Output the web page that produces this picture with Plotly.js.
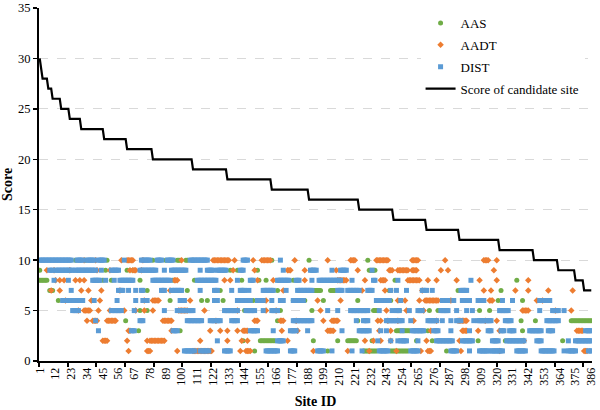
<!DOCTYPE html>
<html>
<head>
<meta charset="utf-8">
<script src="https://cdn.plot.ly/plotly-3.0.1.min.js"></script>
<style>html,body{margin:0;padding:0;background:#fff;}#chart{width:600px;height:410px;}</style>
</head>
<body>
<div id="chart"></div>
<script>
// x tick labels (Site ID)
const tickSites = [1,12,23,34,45,56,67,78,89,100,111,122,133,144,155,166,177,188,199,210,221,232,243,254,265,276,287,298,309,320,331,342,353,364,375,386];

// Score of candidate site: level and number of consecutive sites at that level
const scoreLevels = [30,29,28,27,26,25,24,23,22,21,20,19,18,17,16,15,14,13,12,11,10,9,8,7];
const scoreCounts = [1,1,4,3,6,6,8,16,16,18,28,24,31,26,35,24,23,23,28,24,17,12,6,6];

// Each entry: [score value, first site, last site]
const AAS_runs = [
 [10,26,26],[10,33,33],[10,48,48],[10,80,80],[10,89,89],[10,97,99],[10,103,104],[10,108,108],[10,163,163],[10,189,189],[10,230,230],
 [9,1,1],[9,47,47],[9,62,62],[9,66,66],[9,134,134],[9,139,139],[9,153,153],[9,191,191],[9,231,235],
 [8,1,6],[8,45,45],[8,51,51],[8,71,71],[8,94,94],[8,109,109],[8,142,142],[8,154,154],[8,159,159],[8,178,178],[8,249,249],[8,334,334],
 [7,8,10],[7,76,76],[7,104,104],[7,127,127],[7,167,167],[7,192,197],[7,204,207],[7,245,246],[7,293,293],[7,323,323],
 [6,14,14],[6,92,92],[6,114,114],[6,118,118],[6,129,129],[6,150,150],[6,178,186],[6,199,199],[6,223,223],[6,246,246],[6,321,321],[6,338,338],
 [5,71,71],[5,76,76],[5,144,144],[5,169,169],[5,191,191],[5,229,229],[5,234,237],[5,252,252],[5,273,273],[5,279,279],[5,308,308],[5,315,315],
 [4,61,61],[4,167,167],[4,223,223],[4,337,337],[4,347,347],[4,372,386],
 [3,70,70],[3,99,99],[3,250,259],[3,272,272],[3,338,338],
 [2,143,143],[2,155,165],[2,169,169],[2,192,192],[2,209,209],[2,216,222],[2,233,233],[2,264,264],[2,275,275],[2,307,307],[2,326,326],[2,366,366],
 [1,151,151],[1,202,202],[1,227,236],[1,246,258],[1,285,285]
];
const AADT_runs = [
 [10,32,32],[10,40,40],[10,58,58],[10,62,66],[10,73,73],[10,100,100],[10,122,133],[10,137,137],[10,150,150],[10,156,162],[10,179,179],[10,202,202],[10,218,221],[10,236,244],[10,261,265],[10,284,284],[10,311,314],[10,320,320],
 [9,6,6],[9,11,11],[9,22,22],[9,41,41],[9,50,50],[9,64,64],[9,66,68],[9,72,72],[9,136,136],[9,151,151],[9,174,176],[9,186,186],[9,208,208],[9,223,223],[9,245,247],[9,251,258],[9,261,264],[9,281,281],[9,286,286],[9,318,318],
 [8,12,12],[8,15,15],[8,18,18],[8,26,26],[8,29,29],[8,32,32],[8,95,97],[8,130,130],[8,134,134],[8,153,153],[8,164,164],[8,186,186],[8,209,215],[8,228,228],[8,239,242],[8,258,266],[8,272,272],[8,278,278],[8,292,292],[8,308,308],[8,320,320],[8,342,342],
 [7,9,9],[7,15,15],[7,30,30],[7,35,35],[7,44,44],[7,57,57],[7,92,92],[7,171,171],[7,226,226],[7,242,242],[7,268,268],[7,311,311],[7,316,316],[7,333,333],[7,342,342],[7,356,356],[7,373,373],
 [6,19,19],[6,37,37],[6,43,43],[6,74,74],[6,80,84],[6,106,106],[6,159,159],[6,195,195],[6,211,211],[6,251,251],[6,256,256],[6,266,266],[6,270,279],[6,288,288],[6,315,317],[6,348,348],[6,352,352],
 [5,28,28],[5,32,36],[5,42,42],[5,50,50],[5,60,60],[5,68,68],[5,74,74],[5,80,80],[5,98,104],[5,116,116],[5,139,139],[5,159,159],[5,166,166],[5,197,197],[5,243,243],[5,257,257],[5,269,269],[5,338,342],[5,361,361],[5,372,372],
 [4,34,34],[4,38,41],[4,48,54],[4,87,93],[4,124,124],[4,151,153],[4,169,171],[4,180,180],[4,199,199],[4,205,209],[4,237,237],[4,239,239],[4,244,244],[4,251,251],[4,262,262],[4,278,278],[4,293,299],[4,312,312],[4,320,320],
 [3,63,64],[3,93,93],[3,120,120],[3,127,127],[3,132,132],[3,139,139],[3,143,146],[3,170,170],[3,181,181],[3,202,206],[3,238,238],[3,246,246],[3,274,274],[3,296,299],[3,307,307],[3,322,322],[3,376,380],
 [2,45,48],[2,62,62],[2,76,76],[2,78,88],[2,113,113],[2,132,132],[2,142,142],[2,146,146],[2,174,174],[2,228,228],[2,234,234],[2,239,239],[2,246,246],[2,271,271],[2,294,294],[2,339,339],
 [1,63,63],[1,76,78],[1,97,97],[1,108,121],[1,141,141],[1,145,148],[1,192,192],[1,216,216],[1,231,231],[1,250,250],[1,267,267],[1,272,274],[1,295,295],[1,322,322],[1,381,383]
];
const DIST_runs = [
 [10,1,23],[10,27,31],[10,34,39],[10,42,46],[10,60,60],[10,72,78],[10,83,86],[10,90,94],[10,106,118],[10,143,146],[10,169,169],
 [9,8,10],[9,12,24],[9,26,40],[9,44,44],[9,51,56],[9,71,82],[9,88,88],[9,93,103],[9,113,113],[9,118,122],[9,125,131],[9,141,143],[9,171,171],[9,190,194],[9,205,205],[9,211,215],[9,233,233],
 [8,11,11],[8,21,21],[8,38,43],[8,47,47],[8,53,53],[8,57,66],[8,80,92],[8,111,124],[8,139,139],[8,148,150],[8,167,175],[8,180,182],[8,191,191],[8,196,211],[8,219,219],[8,234,235],[8,251,251],[8,302,302],
 [7,23,23],[7,56,59],[7,63,63],[7,68,68],[7,72,73],[7,86,88],[7,93,100],[7,113,113],[7,123,125],[7,135,135],[7,141,144],[7,147,147],[7,157,164],[7,173,173],[7,181,191],[7,209,212],[7,216,224],[7,230,233],[7,246,246],[7,250,250],[7,257,257],[7,268,271],[7,275,275],[7,295,299],
 [6,17,23],[6,25,31],[6,39,39],[6,55,55],[6,68,68],[6,73,76],[6,99,102],[6,123,125],[6,139,148],[6,153,157],[6,163,163],[6,169,171],[6,178,185],[6,236,245],[6,253,253],[6,282,286],[6,290,290],[6,296,301],[6,307,311],[6,324,324],[6,331,331],[6,350,357],
 [5,24,28],[5,51,58],[5,67,67],[5,88,88],[5,97,108],[5,130,139],[5,145,151],[5,157,157],[5,163,167],[5,202,202],[5,209,209],[5,218,230],[5,238,238],[5,247,247],[5,250,252],[5,259,259],[5,265,268],[5,281,286],[5,292,292],[5,299,299],[5,303,303],[5,322,328],[5,350,350],[5,359,363],[5,367,367],
 [4,40,40],[4,71,73],[4,104,114],[4,120,127],[4,135,139],[4,178,191],[4,222,222],[4,227,230],[4,243,254],[4,260,260],[4,272,278],[4,282,282],[4,288,288],[4,292,295],[4,304,304],[4,307,316],[4,326,330],[4,355,363],
 [3,42,42],[3,65,67],[3,94,97],[3,148,153],[3,164,164],[3,176,180],[3,188,188],[3,212,212],[3,224,231],[3,239,239],[3,243,243],[3,254,254],[3,261,269],[3,276,279],[3,288,288],[3,301,301],[3,314,316],[3,323,325],[3,329,332],[3,343,351],[3,356,359],[3,382,386],
 [2,125,125],[2,167,171],[2,237,237],[2,246,246],[2,251,251],[2,253,257],[2,265,265],[2,278,289],[2,296,303],[2,317,321],[2,327,339],[2,348,351],[2,370,370],[2,375,386],
 [1,102,109],[1,113,119],[1,130,134],[1,159,167],[1,176,179],[1,195,199],[1,205,205],[1,219,219],[1,226,226],[1,238,244],[1,260,265],[1,288,292],[1,301,301],[1,308,314],[1,316,324],[1,334,340],[1,351,360],[1,367,367],[1,370,375],[1,384,386]
];

function expandRuns(runs){
  const x=[], y=[];
  runs.forEach(([v,a,b])=>{ for(let s=a;s<=b;s++){ x.push(s); y.push(v); } });
  return {x, y};
}
function expandScore(levels, counts){
  const x=[], y=[]; let s=1;
  levels.forEach((v,i)=>{ for(let k=0;k<counts[i];k++){ x.push(s++); y.push(v); } });
  return {x, y};
}

const FONT = 'Liberation Serif';
const aas = expandRuns(AAS_runs), aadt = expandRuns(AADT_runs), dist = expandRuns(DIST_runs);
const score = expandScore(scoreLevels, scoreCounts);

const traces = [
  {type:'scatter', mode:'markers', name:'AAS', legendgroup:'a', x:aas.x, y:aas.y,
   marker:{symbol:'circle', size:5, color:'#70AD47'}},
  {type:'scatter', mode:'markers', name:'AADT', legendgroup:'b', x:aadt.x, y:aadt.y,
   marker:{symbol:'diamond', size:5, color:'#ED7D31'}},
  {type:'scatter', mode:'markers', name:'DIST', legendgroup:'c', x:dist.x, y:dist.y,
   marker:{symbol:'square', size:5, color:'#5B9BD5'}},
  {type:'scatter', mode:'lines', name:'Score of candidate site', legendgroup:'d', x:score.x, y:score.y,
   line:{color:'#000000', width:2.2}},
  {type:'scatter', mode:'markers', x:[1], y:[0], xaxis:'x2', showlegend:false, hoverinfo:'skip',
   marker:{size:1, opacity:0}}
];

const layout = {
  width:600, height:410,
  margin:{l:39, r:8, t:8, b:49},
  paper_bgcolor:'#ffffff', plot_bgcolor:'#ffffff',
  font:{family:FONT, color:'#000000', size:12},
  showlegend:true,
  legend:{x:0.69, y:1.0, xanchor:'left', yanchor:'top', bgcolor:'#ffffff',
          font:{family:FONT, size:13, color:'#000000'}, tracegroupgap:2},
  xaxis:{range:[0.5,386.5], tickmode:'array', tickvals:tickSites, ticktext:tickSites.map(String),
         tickangle:-90, ticks:'', showgrid:false, zeroline:false,
         showline:true, linecolor:'#000000', linewidth:2,
         tickfont:{family:FONT, size:12, color:'#000000'},
         title:{text:'<b>Site ID</b>', font:{family:FONT, size:14, color:'#000000'}, standoff:11}},
  xaxis2:{overlaying:'x', range:[0.5,386.5], tick0:0.5, dtick:20, ticks:'outside', ticklen:5, tickwidth:2,
          tickcolor:'#000000', showticklabels:false, showgrid:false, zeroline:false, showline:false},
  yaxis:{range:[0,35], dtick:5, ticks:'outside', ticklen:4, tickwidth:1.5, tickcolor:'#000000',
         showgrid:true, gridcolor:'#d9d9d9', griddash:'dash', gridwidth:1, zeroline:false,
         showline:true, linecolor:'#000000', linewidth:2,
         tickfont:{family:FONT, size:12.5, color:'#000000'},
         title:{text:'<b>Score</b>', font:{family:FONT, size:14, color:'#000000'}, standoff:8}}
};

Plotly.newPlot('chart', traces, layout, {displayModeBar:false, staticPlot:true});
</script>
</body>
</html>
